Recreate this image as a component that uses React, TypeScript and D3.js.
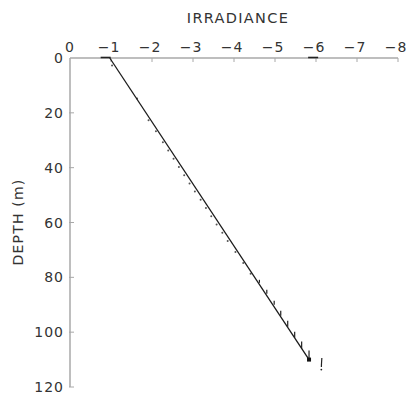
import React from "react";
import * as d3 from "d3";

const xTicks = [0, -1, -2, -3, -4, -5, -6, -7, -8];
const yTicks = [0, 20, 40, 60, 80, 100, 120];

// fitted line
const fitDepth = [0, 110];
const fitIrr = [-0.97, -5.83];

// observed points (dotted trail)
const obsDepth = [2, 14, 22, 26, 30, 33, 36, 39, 42, 45, 48, 51, 54, 57, 60, 63, 66, 70, 74, 78];
const obsIrr = [-1.05, -1.66, -1.94, -2.12, -2.29, -2.42, -2.55, -2.68, -2.81, -2.94, -3.07, -3.21, -3.34, -3.47, -3.60, -3.74, -3.87, -4.06, -4.25, -4.43];

// error-bar ticks near the bottom
const barDepth = [82, 86, 90, 94, 98, 102, 106, 110];
const barIrr = [-4.62, -4.80, -4.98, -5.14, -5.31, -5.48, -5.65, -5.83];
const barLen = [3, 4, 4, 5, 6, 6, 7, 9];

// surface marks
const surfIrr = [-0.87, -5.93];

// odd mark right of the end
const extraDepth = [112];
const extraIrr = [-6.13];

const W = 409;
const H = 395;

export default function App() {
  const x = d3.scaleLinear().domain([0, -8]).range([70, 398]);
  const y = d3.scaleLinear().domain([0, 120]).range([58, 387]);
  const line = d3
    .line<number>()
    .x((_, i) => x(fitIrr[i]))
    .y((d) => y(d));
  const axisColor = "#a8a8a8";
  const textColor = "#333";
  const font = "'DejaVu Sans', sans-serif";

  return (
    <svg
      width={W}
      height={H}
      style={{ position: "absolute", left: 0, top: 0, background: "#fff" }}
      fontFamily={font}
    >
      <rect x={0} y={0} width={W} height={H} fill="#fff" />
      {/* title */}
      <text x={238} y={23} textAnchor="middle" fontSize={14.5} fill={textColor} letterSpacing={1.3}>
        IRRADIANCE
      </text>
      <text
        transform={`translate(23,${222}) rotate(-90)`}
        textAnchor="middle"
        fontSize={14}
        fill={textColor}
        letterSpacing={1.2}
      >
        DEPTH (m)
      </text>

      {/* x axis (top) */}
      <line x1={x(0)} x2={x(-8)} y1={y(0)} y2={y(0)} stroke={axisColor} strokeWidth={1.5} />
      {xTicks.map((t) => (
        <g key={"xt" + t}>
          {t !== 0 && (
            <line x1={x(t)} x2={x(t)} y1={y(0)} y2={y(0) + 4} stroke={axisColor} strokeWidth={1} />
          )}
          <text x={x(t) - (t === 0 ? 0 : 2)} y={52} textAnchor="middle" fontSize={14} fill={textColor} letterSpacing={1}>
            {t === 0 ? "0" : "\u2212" + Math.abs(t)}
          </text>
        </g>
      ))}

      {/* y axis */}
      <line x1={x(0)} x2={x(0)} y1={y(0)} y2={y(120)} stroke={axisColor} strokeWidth={1.5} />
      {yTicks.map((t) => (
        <g key={"yt" + t}>
          {t !== 0 && (
            <line x1={x(0) - 1} x2={x(0) + 4} y1={y(t)} y2={y(t)} stroke={axisColor} strokeWidth={1} />
          )}
          <text x={64} y={y(t) + 5} textAnchor="end" fontSize={14} fill={textColor} letterSpacing={1}>
            {t}
          </text>
        </g>
      ))}

      {/* surface marks */}
      {surfIrr.map((v, i) => (
        <line key={"s" + i} x1={x(v) - 5} x2={x(v) + 5} y1={y(0) - 0.5} y2={y(0) - 0.5} stroke="#222" strokeWidth={1.6} />
      ))}

      {/* observed dotted trail */}
      {obsDepth.map((d, i) => (
        <circle key={"o" + i} cx={x(obsIrr[i]) - 1} cy={y(d) + 2} r={1} fill="#555" />
      ))}

      {/* fitted line */}
      <path d={line(fitDepth) || ""} fill="none" stroke="#1a1a1a" strokeWidth={1.3} />

      {/* error ticks */}
      {barDepth.map((d, i) => (
        <line
          key={"b" + i}
          x1={x(barIrr[i])}
          x2={x(barIrr[i])}
          y1={y(d)}
          y2={y(d) - barLen[i]}
          stroke="#222"
          strokeWidth={1.2}
        />
      ))}
      <rect x={x(-5.83) - 2} y={y(110) - 2} width={4} height={4} fill="#111" />

      {/* extra mark */}
      {extraDepth.map((d, i) => (
        <g key={"e" + i}>
          <line x1={x(extraIrr[i]) + 0.5} x2={x(extraIrr[i])} y1={y(d) - 7} y2={y(d) + 2} stroke="#222" strokeWidth={1.2} />
          <circle cx={x(extraIrr[i])} cy={y(d) + 4.5} r={0.9} fill="#222" />
        </g>
      ))}
    </svg>
  );
}
